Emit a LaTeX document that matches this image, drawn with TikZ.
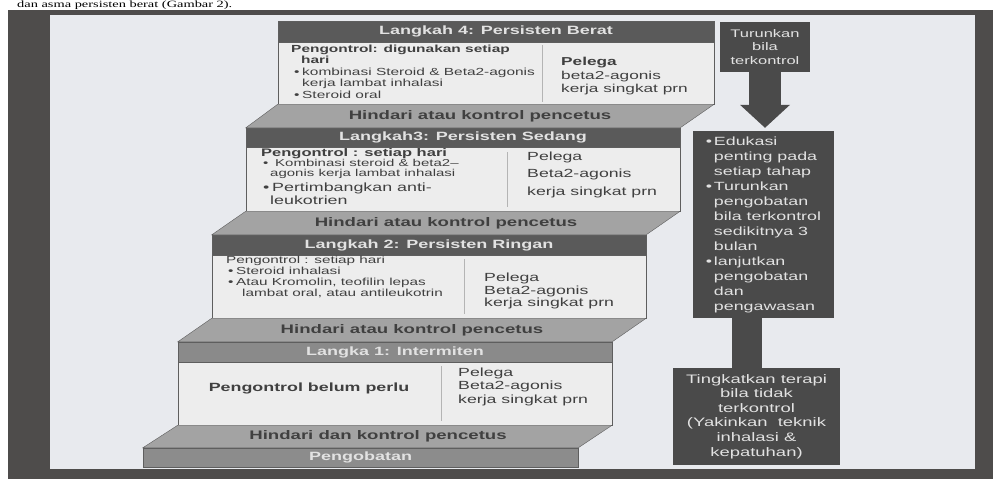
\documentclass[tikz,border=0pt]{standalone}
\usepackage{fontspec}
\setmainfont{Liberation Sans}[FakeStretch=1.5]
\newfontfamily\pagefont{Liberation Serif}[FakeStretch=1.5]
\usetikzlibrary{arrows.meta}

\definecolor{framegray}{HTML}{4E4C4B}
\definecolor{paper}{HTML}{E8EAEE}
\definecolor{boxline}{HTML}{5E5E5E}
\definecolor{headdark}{HTML}{5A5A5A}
\definecolor{headlight}{HTML}{8A8A8A}
\definecolor{bodyfill}{HTML}{EDEDED}
\definecolor{treadfill}{HTML}{A3A3A3}
\definecolor{barfill}{HTML}{8C8C8C}
\definecolor{sidefill}{HTML}{4A4A4A}
\definecolor{lighttext}{HTML}{E2E2E2}
\definecolor{darktext}{HTML}{404040}
\definecolor{divgray}{HTML}{B4B4B4}

\begin{document}
\begin{tikzpicture}[x=1pt,y=-1pt]
			\tikzstyle{head} = [draw=boxline, fill=headdark, text=lighttext, inner sep=0, minimum height=20pt, font=\fontsize{12}{14}\selectfont\bfseries]
			\tikzstyle{body} = [draw=boxline, fill=bodyfill, inner sep=0]
			\tikzstyle{txt} = [text=darktext, inner sep=0, align=left, anchor=west]
			\tikzstyle{tread} = [draw=boxline, fill=treadfill]
			\tikzstyle{treadtxt} = [text=darktext, inner sep=0, font=\fontsize{12.4}{14}\selectfont\bfseries]
			\tikzstyle{side} = [fill=sidefill, text=lighttext, inner sep=0, align=center]
			\tikzstyle{divline} = [divgray, line width=1pt]
			
			\useasboundingbox (0,0) rectangle (993,479);
			\clip (0,0) rectangle (993,479);
			\fill[white] (0,0) rectangle (993,479);
			\fill[framegray] (8,10) rectangle (993,479);
			\fill[paper] (50,15) rectangle (975,469);
			\node [anchor=base west, inner sep=0, font=\pagefont\fontsize{9.6}{11}\selectfont] (caption) at (17,8) {dan asma persisten berat (Gambar 2).};
			
			\node [body, minimum width=436pt, minimum height=62pt] (l4body) at (496,73) {};
			\node [head, minimum width=436pt, minimum height=21pt] (l4head) at (496,31.5) {Langkah 4: Persisten Berat};
			\node [body, minimum width=434pt, minimum height=64pt] (l3body) at (463,179) {};
			\node [head, minimum width=434pt, minimum height=19pt] (l3head) at (463,137.5) {Langkah3: Persisten Sedang};
			\node [body, minimum width=434pt, minimum height=63pt] (l2body) at (429,286.5) {};
			\node [head, minimum width=434pt] (l2head) at (429,245) {Langkah 2: Persisten Ringan};
			\node [body, minimum width=434pt, minimum height=63pt] (l1body) at (395,393.5) {};
			\node [head, fill=headlight, minimum width=434pt] (l1head) at (395,352) {Langka 1: Intermiten};
			\node [head, fill=barfill, minimum width=435pt, minimum height=19pt] (obat) at (360.5,457.5) {Pengobatan};
			
			\filldraw [tread] (l4body.south west) -- (l4body.south east) -- (l3head.north east) -- (l3head.north west) -- cycle;
			\filldraw [tread] (l3body.south west) -- (l3body.south east) -- (l2head.north east) -- (l2head.north west) -- cycle;
			\filldraw [tread] (l2body.south west) -- (l2body.south east) -- (l1head.north east) -- (l1head.north west) -- cycle;
			\filldraw [tread] (l1body.south west) -- (l1body.south east) -- (obat.north east) -- (obat.north west) -- cycle;
			\node [treadtxt] (t1) at (480,116) {Hindari atau kontrol pencetus};
			\node [treadtxt] (t2) at (446,223) {Hindari atau kontrol pencetus};
			\node [treadtxt] (t3) at (412,330) {Hindari atau kontrol pencetus};
			\node [treadtxt] (t4) at (378,436.5) {Hindari dan kontrol pencetus};
			
			\draw [divline] (542,45) -- (542,102);
			\draw [divline] (507,152) -- (507,207);
			\draw [divline] (464,259) -- (464,314);
			\draw [divline] (441,366) -- (441,421);
			
			\node [txt, font=\fontsize{10.3}{11.5}\selectfont] (l4ctl) at (291,71.5) {\textbf{Pengontrol: digunakan setiap}\\\hspace*{10pt}\textbf{hari}\\\hspace*{3pt}\makebox[8pt][l]{•}kombinasi Steroid \& Beta2-agonis\\\hspace*{11pt}kerja lambat inhalasi\\\hspace*{3pt}\makebox[8pt][l]{•}Steroid oral};
			\node [txt, font=\fontsize{11.5}{13.5}\selectfont] (l4rel) at (561,76.5) {\textbf{Pelega}\\beta2-agonis\\kerja singkat prn};
			
			\node [txt, font=\fontsize{10}{10}\selectfont] (l3ctl) at (261,164) {{\fontsize{11}{10}\selectfont\bfseries Pengontrol : setiap hari}\\\hspace*{2pt}\makebox[12pt][l]{•}Kombinasi steroid \& beta2--\\\hspace*{9pt}agonis kerja lambat inhalasi};
			\node [txt, font=\fontsize{11.9}{13}\selectfont] (l3add) at (262,194) {\hspace*{1pt}\makebox[9pt][l]{•}Pertimbangkan anti-\\\hspace*{8pt}leukotrien};
			\node [txt, font=\fontsize{11.8}{17.5}\selectfont] (l3rel) at (527,174.5) {Pelega\\Beta2-agonis\\kerja singkat prn};
			
			\node [txt, font=\fontsize{10.2}{11.3}\selectfont] (l2ctl) at (226,277) {Pengontrol : setiap hari\\\hspace*{2pt}\makebox[8pt][l]{•}Steroid inhalasi\\\hspace*{2pt}\makebox[8pt][l]{•}Atau Kromolin, teofilin lepas\\\hspace*{16pt}lambat oral, atau antileukotrin};
			\node [txt, font=\fontsize{11.8}{12.5}\selectfont] (l2rel) at (484,291) {Pelega\\Beta2-agonis\\kerja singkat prn};
			
			\node [txt, anchor=center, font=\fontsize{11.9}{14}\selectfont\bfseries] (l1ctl) at (309,388) {Pengontrol belum perlu};
			\node [txt, font=\fontsize{11.8}{13.5}\selectfont] (l1rel) at (458,386.5) {Pelega\\Beta2-agonis\\kerja singkat prn};
			
			\node [side, minimum width=90pt, minimum height=50pt, font=\fontsize{11}{13.5}\selectfont] (turun) at (765,47) {Turunkan\\bila\\terkontrol};
			\node [side, align=left, minimum width=141pt, minimum height=187pt, font=\fontsize{11.9}{15}\selectfont] (edu) at (763.5,224.5) {\makebox[8pt][l]{•}Edukasi\\\hspace*{8pt}penting pada\\\hspace*{8pt}setiap tahap\\\makebox[8pt][l]{•}Turunkan\\\hspace*{8pt}pengobatan\\\hspace*{8pt}bila terkontrol\\\hspace*{8pt}sedikitnya 3\\\hspace*{8pt}bulan\\\makebox[8pt][l]{•}lanjutkan\\\hspace*{8pt}pengobatan\\\hspace*{8pt}dan\\\hspace*{8pt}pengawasan};
			\node [side, minimum width=167pt, minimum height=97pt, font=\fontsize{12.3}{14.6}\selectfont] (tingkat) at (756.5,416.5) {Tingkatkan terapi\\bila tidak\\terkontrol\\(Yakinkan\ \ teknik\\inhalasi \&\\kepatuhan)};
			
			\draw [sidefill, line width=32pt, -{Triangle[length=23pt, width=50pt, line width=0pt]}, shorten >=3pt] (turun.south) -- (edu.north -| turun.south);
			\draw [sidefill, line width=30pt] ([xshift=-16.5pt]edu.south) -- ([xshift=-16.5pt]edu.south |- tingkat.north);
			
		\end{tikzpicture}
\end{document}
